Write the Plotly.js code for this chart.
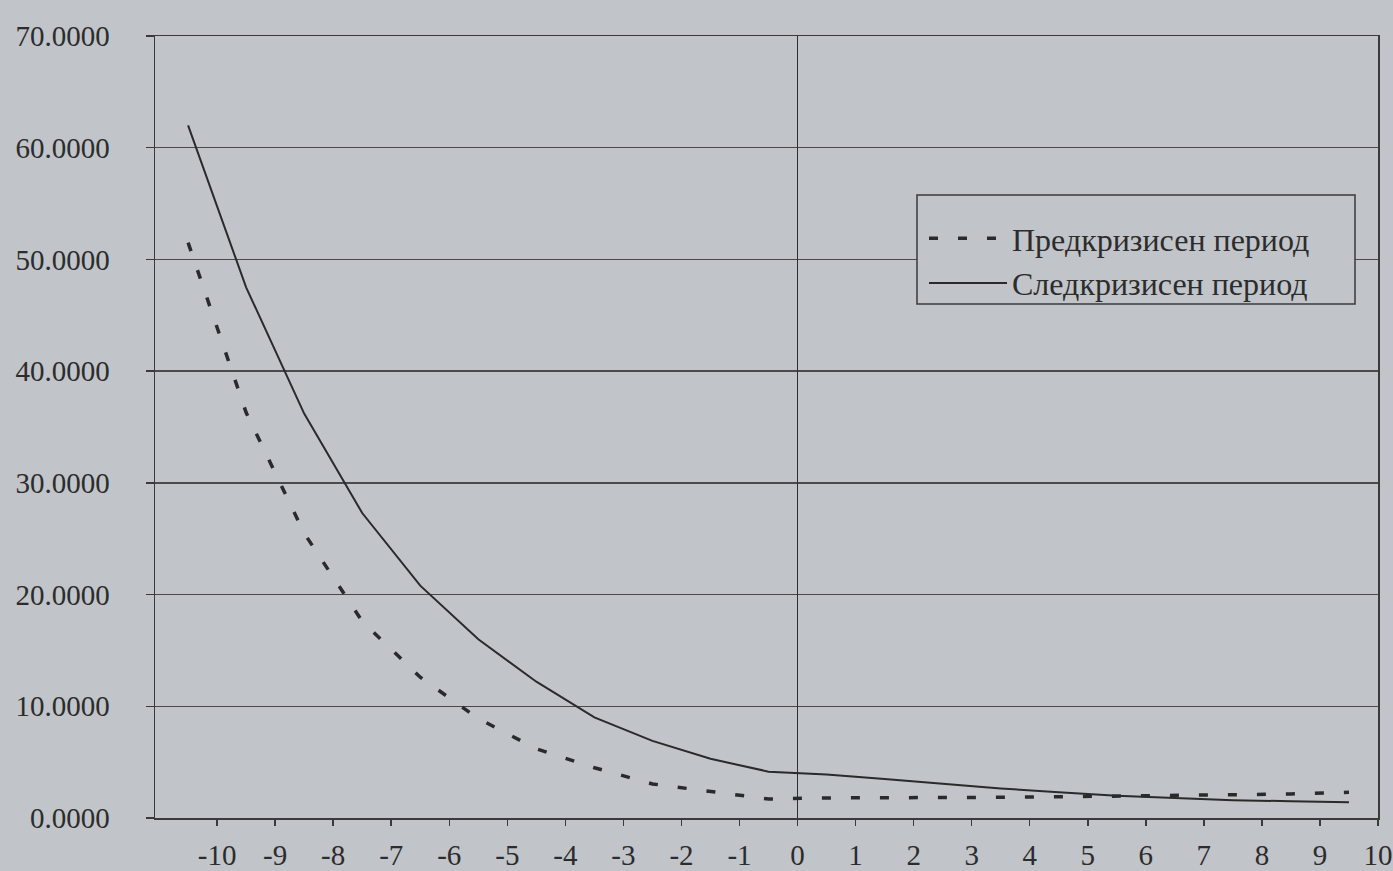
<!DOCTYPE html>
<html>
<head>
<meta charset="utf-8">
<script src="https://cdn.plot.ly/plotly-3.0.1.min.js"></script>
<style>
html,body{margin:0;padding:0;background:#c1c4c9;}
#chart{width:1393px;height:871px;}
</style>
</head>
<body>
<div id="chart"></div>
<script>
// Points sit half-way between the labelled ticks, as in the original
const periods = [-10.5,-9.5,-8.5,-7.5,-6.5,-5.5,-4.5,-3.5,-2.5,-1.5,-0.5,0.5,1.5,2.5,3.5,4.5,5.5,6.5,7.5,8.5,9.5];
const preCrisis = [51.5,36.3,25.5,17.6,12.6,8.9,6.2,4.5,3.05,2.35,1.7,1.8,1.8,1.8,1.85,1.9,1.95,2.0,2.1,2.15,2.3];
const postCrisis = [62.0,47.5,36.2,27.3,20.8,16.0,12.2,9.0,6.9,5.3,4.15,3.9,3.5,3.05,2.65,2.3,2.0,1.8,1.6,1.5,1.4];
const seriesNames = ['Предкризисен период','Следкризисен период'];
const xTickValues = [-10,-9,-8,-7,-6,-5,-4,-3,-2,-1,0,1,2,3,4,5,6,7,8,9,10];
const yTickValues = [0,10,20,30,40,50,60,70];

const W = 1393, H = 871;
const M = {l: 155, r: 15, t: 36, b: 53};
const pw = W - M.l - M.r, ph = H - M.t - M.b;
const px2x = p => (p - M.l) / pw;
const py2y = p => (H - M.b - p) / ph;

const ink = '#2c2c2c';
const bg = '#c1c4c9';
const fam = '"Liberation Serif", "DejaVu Serif", serif';
const font = {family: fam, color: ink, size: 29};

const traces = [
  {x: periods, y: preCrisis, name: seriesNames[0], type: 'scatter', mode: 'lines',
   line: {color: '#2a2a2a', width: 3.5, dash: '9px,20px'}},
  {x: periods, y: postCrisis, name: seriesNames[1], type: 'scatter', mode: 'lines',
   line: {color: '#2a2a2a', width: 2}}
];

const layout = {
  width: W, height: H,
  paper_bgcolor: bg, plot_bgcolor: bg,
  font: font,
  margin: M,
  showlegend: true,
  legend: {
    x: px2x(924), y: py2y(211), xanchor: 'left', yanchor: 'top',
    bgcolor: 'rgba(0,0,0,0)', borderwidth: 0,
    font: {family: fam, color: ink, size: 32},
    itemwidth: 78
  },
  shapes: [{
    type: 'rect', xref: 'paper', yref: 'paper',
    x0: px2x(917), x1: px2x(1355), y0: py2y(195), y1: py2y(304),
    line: {color: '#3a3a3a', width: 1.5}, fillcolor: bg, layer: 'above'
  }],
  xaxis: {
    range: [-11.07, 10],
    tickmode: 'array', tickvals: xTickValues, ticktext: xTickValues.map(String),
    showgrid: false,
    zeroline: true, zerolinecolor: '#2e2e2e', zerolinewidth: 1.5,
    showline: true, linecolor: '#3a3a3a', linewidth: 1.5, mirror: true,
    ticks: 'outside', ticklen: 6, tickcolor: '#3a3a3a', tickwidth: 1.5,
    ticklabelstandoff: 5, ticklabeloverflow: 'allow',
    tickfont: font, fixedrange: true
  },
  yaxis: {
    range: [0, 70],
    tickmode: 'array', tickvals: yTickValues, tickformat: '.4f',
    showgrid: true, gridcolor: '#4a4a4a', gridwidth: 1.5,
    zeroline: false,
    showline: true, linecolor: '#3a3a3a', linewidth: 1.5, mirror: true,
    ticks: 'outside', ticklen: 8, tickcolor: '#3a3a3a', tickwidth: 1.5,
    ticklabelstandoff: 30,
    tickfont: font, fixedrange: true
  }
};

Plotly.newPlot('chart', traces, layout, {displayModeBar: false, staticPlot: true});
</script>
</body>
</html>
